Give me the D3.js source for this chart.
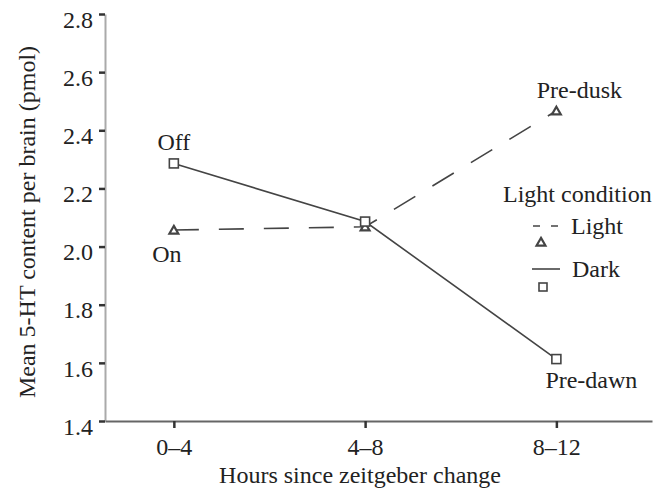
<!DOCTYPE html>
<html>
<head>
<meta charset="utf-8">
<script src="https://cdn.jsdelivr.net/npm/d3@7"></script>
<style>
  body { margin: 0; background: #fff; }
  svg text { font-family: "Liberation Serif", "Times New Roman", serif; fill: #222; }
</style>
</head>
<body>
<div id="plot"></div>
<script>
var categories = ['0\u20134', '4\u20138', '8\u201312'];
var lightValues = [2.057, 2.068, 2.467];
var darkValues = [2.286, 2.086, 1.613];
var yTicks = [1.4, 1.6, 1.8, 2.0, 2.2, 2.4, 2.6, 2.8];

var width = 665,
    height = 494;

var svg = d3.select('#plot')
    .append('svg')
    .attr('width', width)
    .attr('height', height);

var xScale = d3.scaleLinear()
    .domain([-0.36, 2.5])
    .range([105, 652]);

var yScale = d3.scaleLinear()
    .domain([1.4, 2.8])
    .range([421, 14]);

// y axis: light grey spine, dark ticks
var yAxis = svg.append('g')
    .attr('transform', 'translate(105,0)')
    .call(d3.axisLeft(yScale)
        .tickValues(yTicks)
        .tickFormat(d3.format('.1f'))
        .tickSize(6)
        .tickSizeOuter(0)
        .tickPadding(6));
yAxis.select('.domain').attr('stroke', '#aaa').attr('stroke-width', 2);
yAxis.selectAll('.tick line').attr('stroke', '#333').attr('stroke-width', 2.5);
yAxis.selectAll('.tick text')
    .attr('dy', '0.55em')
    .style('font-size', '24px')
    .style('font-family', '"Liberation Serif", serif')
    .attr('fill', '#222');

// x axis
var xAxis = svg.append('g')
    .attr('transform', 'translate(0,421)')
    .call(d3.axisBottom(xScale)
        .tickValues([0, 1, 2])
        .tickFormat(function(d) { return categories[d]; })
        .tickSize(7)
        .tickSizeOuter(0)
        .tickPadding(10));
xAxis.select('.domain').attr('stroke', '#666').attr('stroke-width', 2);
xAxis.selectAll('.tick line').attr('stroke', '#333').attr('stroke-width', 2.5);
xAxis.selectAll('.tick text')
    .style('font-size', '24px')
    .style('font-family', '"Liberation Serif", serif')
    .attr('fill', '#222');

svg.append('text')
    .attr('x', 360)
    .attr('y', 483)
    .attr('text-anchor', 'middle')
    .style('font-size', '24px')
    .text('Hours since zeitgeber change');

svg.append('text')
    .attr('transform', 'translate(35,222) rotate(-90)')
    .attr('text-anchor', 'middle')
    .style('font-size', '24px')
    .text('Mean 5-HT content per brain (pmol)');

var line = d3.line()
    .x(function(d, i) { return xScale(i); })
    .y(function(d) { return yScale(d); });

svg.append('path')
    .datum(darkValues)
    .attr('d', line)
    .attr('fill', 'none')
    .attr('stroke', '#444')
    .attr('stroke-width', 1.6);

svg.append('path')
    .datum(lightValues)
    .attr('d', line)
    .attr('fill', 'none')
    .attr('stroke', '#444')
    .attr('stroke-width', 1.6)
    .attr('stroke-dasharray', '25,20');

var triangle = d3.symbol().type(d3.symbolTriangle).size(34);

svg.append('g')
    .selectAll('path')
    .data(lightValues)
    .enter()
    .append('path')
    .attr('d', triangle)
    .attr('transform', function(d, i) { return 'translate(' + xScale(i) + ',' + (yScale(d) + 1) + ')'; })
    .attr('fill', '#fff')
    .attr('stroke', '#444')
    .attr('stroke-width', 2.2);

svg.append('g')
    .selectAll('rect')
    .data(darkValues)
    .enter()
    .append('rect')
    .attr('x', function(d, i) { return xScale(i) - 4.5; })
    .attr('y', function(d) { return yScale(d) - 4.5; })
    .attr('width', 9)
    .attr('height', 9)
    .attr('fill', '#fff')
    .attr('stroke', '#444')
    .attr('stroke-width', 1.6);

// point annotations
var notes = [
    {text: 'Off', i: 0, v: darkValues[0], dx: 0, dy: -13},
    {text: 'On', i: 0, v: lightValues[0], dx: -7, dy: 32},
    {text: 'Pre-dusk', i: 2, v: lightValues[2], dx: 23, dy: -13},
    {text: 'Pre-dawn', i: 2, v: darkValues[2], dx: 35, dy: 29}
];

svg.append('g')
    .selectAll('text')
    .data(notes)
    .enter()
    .append('text')
    .attr('x', function(d) { return xScale(d.i) + d.dx; })
    .attr('y', function(d) { return yScale(d.v) + d.dy; })
    .attr('text-anchor', 'middle')
    .style('font-size', '24px')
    .text(function(d) { return d.text; });

// legend
var legend = svg.append('g');

legend.append('text')
    .attr('x', 503)
    .attr('y', 202)
    .style('font-size', '24px')
    .text('Light condition');

legend.append('line')
    .attr('x1', 533).attr('y1', 226)
    .attr('x2', 559).attr('y2', 226)
    .attr('stroke', '#444')
    .attr('stroke-width', 1.6)
    .attr('stroke-dasharray', '7,11');

legend.append('path')
    .attr('d', triangle)
    .attr('transform', 'translate(541,243)')
    .attr('fill', '#fff')
    .attr('stroke', '#444')
    .attr('stroke-width', 2.2);

legend.append('text')
    .attr('x', 571)
    .attr('y', 234)
    .style('font-size', '24px')
    .text('Light');

legend.append('line')
    .attr('x1', 532).attr('y1', 269)
    .attr('x2', 560).attr('y2', 269)
    .attr('stroke', '#444')
    .attr('stroke-width', 1.6);

legend.append('rect')
    .attr('x', 539).attr('y', 283)
    .attr('width', 8).attr('height', 8)
    .attr('fill', '#fff')
    .attr('stroke', '#444')
    .attr('stroke-width', 1.6);

legend.append('text')
    .attr('x', 572)
    .attr('y', 277)
    .style('font-size', '24px')
    .text('Dark');
</script>
</body>
</html>
